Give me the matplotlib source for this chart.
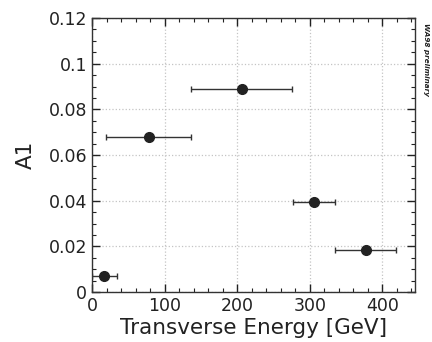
import matplotlib.pyplot as plt
from matplotlib.ticker import MultipleLocator

# data
et = [17, 78, 206, 306, 377]
et_err = [17, 59, 70, 29, 42]
a1 = [0.007, 0.068, 0.089, 0.0395, 0.0185]

fig = plt.figure(figsize=(4.32, 3.42), dpi=100)
ax = fig.add_axes([92 / 432, 1 - 292 / 342, 323 / 432, 274 / 342])

ax.errorbar(et, a1, xerr=et_err, fmt='o', color='#222222', ecolor='#333333',
            markersize=7, elinewidth=1.0, capsize=2.5, capthick=1.0)

ax.set_xlim(0, 445)
ax.set_ylim(0, 0.12)
ax.xaxis.set_major_locator(MultipleLocator(100))
ax.xaxis.set_minor_locator(MultipleLocator(20))
ax.yaxis.set_minor_locator(MultipleLocator(0.005))
ax.set_yticks([0, 0.02, 0.04, 0.06, 0.08, 0.1, 0.12])
ax.set_yticklabels(['0', '0.02', '0.04', '0.06', '0.08', '0.1', '0.12'])

ax.tick_params(which='both', direction='in', top=True, right=True, labelsize=12.5, colors='#222222')
ax.tick_params(which='major', length=6, width=1)
ax.tick_params(which='minor', length=3, width=0.8)
ax.grid(True, which='major', linestyle=':', color='#c4c4c4', linewidth=0.9)
for s in ax.spines.values():
    s.set_color('#333333')
    s.set_linewidth(1.0)

ax.set_xlabel('Transverse Energy [GeV]', fontsize=15.5, color='#222222', labelpad=2)
ax.set_ylabel('A1', fontsize=15.5, color='#222222', labelpad=9)

fig.text(0.987, 0.825, 'WA98 preliminary', rotation=-90, fontsize=5.2,
         fontstyle='italic', fontweight='bold', ha='center', va='center', color='#222222')

fig.savefig('out.png', dpi=100)
